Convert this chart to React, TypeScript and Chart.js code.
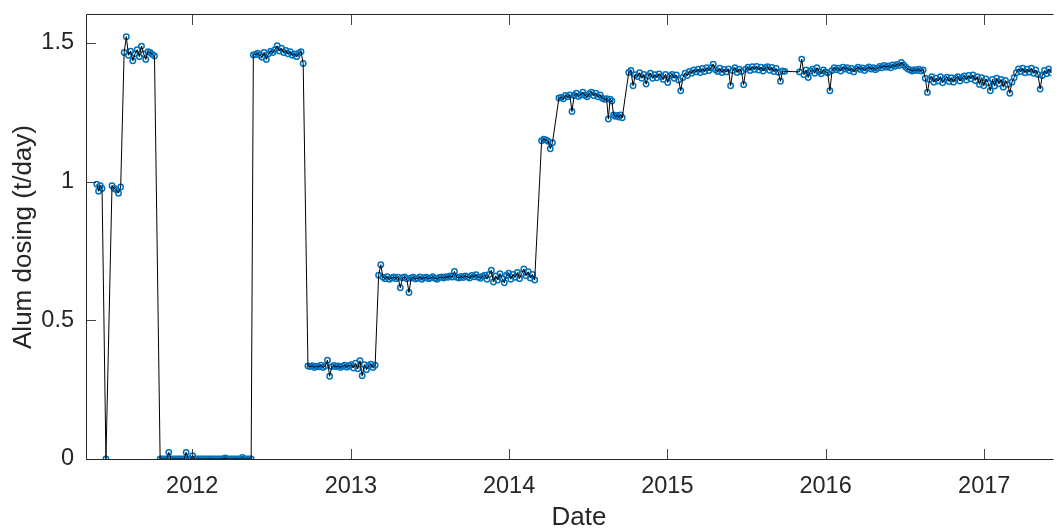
import { useEffect, useRef } from 'react';
import { Chart, registerables } from 'chart.js';

Chart.register(...registerables);

// Alum dosing rate (t/day), grouped into sampling runs.
// Each run starts on a date and is sampled every few days.
const may2011 = [0.99, 0.965, 0.985, 0.975];
const jun2011Outage = [0];
const jun2011 = [0.985, 0.975, 0.97, 0.958, 0.98];
const summer2011 = [1.465, 1.522, 1.455, 1.47, 1.435, 1.46, 1.475, 1.45, 1.488, 1.46, 1.44, 1.468, 1.465, 1.458, 1.452];
const offline2011 = [
  0, 0, 0, 0, 0.024, 0, 0, 0, 0, 0, 0, 0, 0.024, 0, 0, 0.012,
  0, 0, 0, 0, 0, 0, 0, 0, 0, 0, 0, 0, 0, 0, 0.004, 0,
  0, 0, 0, 0, 0, 0, 0.006, 0, 0, 0, 0,
];
const summer2012 = [
  1.456, 1.458, 1.462, 1.455, 1.448, 1.465, 1.44, 1.46, 1.47, 1.465, 1.475, 1.489,
  1.47, 1.48, 1.465, 1.472, 1.46, 1.468, 1.455, 1.46, 1.45, 1.462, 1.468, 1.425,
];
const low2012 = [
  0.335, 0.333, 0.336, 0.33, 0.334, 0.332, 0.338, 0.33, 0.335, 0.356, 0.298, 0.333,
  0.337, 0.332, 0.335, 0.33, 0.334, 0.338, 0.331, 0.336, 0.34, 0.328, 0.345, 0.325,
  0.354, 0.3, 0.34, 0.322, 0.336, 0.342, 0.33, 0.338,
];
const mid2013 = [
  0.662, 0.7, 0.655, 0.65, 0.657, 0.648, 0.652, 0.656, 0.65, 0.655, 0.617, 0.653,
  0.656, 0.65, 0.6, 0.652, 0.655, 0.649, 0.651, 0.656, 0.648, 0.653, 0.655, 0.65,
  0.652, 0.657, 0.651, 0.648, 0.654, 0.656, 0.652, 0.657, 0.655, 0.66, 0.656, 0.676,
  0.655, 0.652, 0.658, 0.654, 0.66, 0.656, 0.652, 0.661, 0.657, 0.664, 0.655, 0.651,
  0.659, 0.662, 0.648, 0.665, 0.68, 0.638, 0.66, 0.645, 0.668, 0.65, 0.635, 0.662,
  0.67, 0.648, 0.665, 0.655, 0.672, 0.65, 0.668, 0.685, 0.66, 0.675, 0.652, 0.665,
  0.645,
];
const mar2014 = [1.147, 1.152, 1.15, 1.145, 1.118, 1.14];
const spring2014 = [
  1.301, 1.303, 1.298, 1.31, 1.305, 1.312, 1.252, 1.31, 1.318, 1.306, 1.312, 1.322,
  1.31, 1.305, 1.316, 1.322, 1.31, 1.318, 1.305, 1.312, 1.3, 1.296, 1.298,
];
const aug2014 = [1.225, 1.297, 1.29, 1.24, 1.235, 1.238, 1.232, 1.24, 1.23];
const late2014 = [
  1.393, 1.4, 1.345, 1.385, 1.378, 1.392, 1.372, 1.386, 1.351, 1.38, 1.39, 1.372,
  1.385, 1.374, 1.388, 1.378, 1.368, 1.386, 1.357, 1.38, 1.386, 1.372, 1.384, 1.366,
  1.327, 1.375, 1.39, 1.382, 1.397, 1.39, 1.402, 1.395, 1.405, 1.393, 1.407, 1.396,
  1.41, 1.4, 1.41, 1.423, 1.403, 1.396, 1.408, 1.393, 1.404, 1.395, 1.406, 1.345,
  1.4, 1.41, 1.393, 1.405, 1.396, 1.349, 1.405, 1.412, 1.4, 1.414, 1.404, 1.415,
  1.402, 1.412, 1.398, 1.41, 1.414, 1.401, 1.411, 1.396, 1.407, 1.394, 1.361, 1.398,
  1.397,
];
const late2015 = [
  1.395, 1.441, 1.385, 1.402, 1.375, 1.398, 1.405, 1.39, 1.41, 1.396, 1.388, 1.402,
  1.395, 1.392, 1.327, 1.4, 1.41, 1.403, 1.408, 1.398, 1.412, 1.405, 1.41, 1.4,
  1.407, 1.395, 1.406, 1.412, 1.404, 1.409, 1.4, 1.408, 1.413, 1.405, 1.41, 1.403,
  1.408, 1.415, 1.41, 1.418, 1.412, 1.416, 1.41, 1.42, 1.415, 1.422, 1.418, 1.429,
  1.42, 1.412, 1.405, 1.402, 1.398, 1.403, 1.4, 1.405, 1.398, 1.402,
];
const late2016 = [
  1.372, 1.321, 1.368, 1.378, 1.358, 1.372, 1.362, 1.378, 1.356, 1.37, 1.376, 1.36,
  1.374, 1.358, 1.372, 1.378, 1.362, 1.374, 1.38, 1.366, 1.382, 1.37, 1.384, 1.364,
  1.378, 1.35, 1.374, 1.345, 1.37, 1.356, 1.327, 1.368, 1.344, 1.372, 1.352, 1.368,
  1.34, 1.364, 1.35, 1.318, 1.358, 1.374, 1.392, 1.406, 1.396, 1.408, 1.392, 1.405,
  1.394, 1.408, 1.39, 1.402, 1.386, 1.333, 1.382, 1.4, 1.388, 1.406, 1.392, 1.402,
];

const runStarts = [
  '2011-05-26', '2011-06-16', '2011-06-30', '2011-07-28', '2011-10-19', '2012-05-21',
  '2012-09-24', '2013-03-06', '2014-03-17', '2014-04-26', '2014-08-18', '2014-10-04',
  '2015-11-02', '2016-08-18',
];
const runStepDays = [4, 1, 5, 5, 5, 5, 5, 5, 5, 5, 4, 5, 5, 5];
const runValues = [
  may2011, jun2011Outage, jun2011, summer2011, offline2011, summer2012,
  low2012, mid2013, mar2014, spring2014, aug2014, late2014, late2015, late2016,
];

const yearTicks = [2012, 2013, 2014, 2015, 2016, 2017];
const dosingTicks = [0, 0.5, 1, 1.5];
const xStart = '2011-05-01';
const xEnd = '2017-06-05';

const DAY = 86400000;
const parseDay = (s: string) => {
  const [y, m, d] = s.split('-').map(Number);
  return Date.UTC(y, m - 1, d);
};

const points = runStarts.flatMap((start, r) =>
  runValues[r].map((v, i) => ({ x: parseDay(start) + i * runStepDays[r] * DAY, y: v }))
);

const INK = '#262626';
const TICK_FONT = { family: '"Liberation Sans", Arial, Helvetica, sans-serif', size: 23.5 };

const axesFrame = {
  id: 'axesFrame',
  afterDraw(chart: any) {
    const { ctx, chartArea: a, scales } = chart;
    const xs = scales.x;
    const ys = scales.y;
    ctx.save();
    ctx.strokeStyle = INK;
    ctx.lineWidth = 1;
    ctx.beginPath();
    ctx.moveTo(a.right + 2, a.top - 0.5);
    ctx.lineTo(a.left + 0.5, a.top - 0.5);
    ctx.lineTo(a.left + 0.5, a.bottom + 0.5);
    ctx.lineTo(a.right + 2, a.bottom + 0.5);
    ctx.stroke();

    const len = 10;
    ctx.strokeStyle = 'rgba(38,38,38,0.85)';
    ctx.beginPath();
    yearTicks.forEach((yr) => {
      const px = Math.round(xs.getPixelForValue(Date.UTC(yr, 0, 1))) + 0.5;
      ctx.moveTo(px, a.bottom);
      ctx.lineTo(px, a.bottom - len);
      ctx.moveTo(px, a.top);
      ctx.lineTo(px, a.top + len);
    });
    dosingTicks.forEach((v) => {
      const py = Math.round(ys.getPixelForValue(v)) + 0.5;
      ctx.moveTo(a.left, py);
      ctx.lineTo(a.left + len, py);
    });
    ctx.stroke();

    ctx.fillStyle = INK;
    ctx.font = '26px "Liberation Sans", Arial, Helvetica, sans-serif';
    ctx.textAlign = 'center';
    ctx.textBaseline = 'alphabetic';
    ctx.fillText('Date', 579, 525);

    ctx.translate(31, (a.top + a.bottom) / 2);
    ctx.rotate(-Math.PI / 2);
    ctx.fillText('Alum dosing (t/day)', 0, 0);
    ctx.restore();
  },
};

export default function App() {
  const canvasRef = useRef<HTMLCanvasElement | null>(null);

  useEffect(() => {
    if (!canvasRef.current) return;
    const chart = new Chart(canvasRef.current, {
      type: 'line',
      data: {
        datasets: [
          {
            data: points,
            borderColor: '#000000',
            borderWidth: 1,
            pointRadius: 0,
            tension: 0,
            fill: false,
          },
          {
            data: points,
            showLine: false,
            pointStyle: 'circle',
            pointRadius: 2.7,
            pointBorderWidth: 1.5,
            pointBorderColor: '#0072BD',
            pointBackgroundColor: 'rgba(0,0,0,0)',
          },
        ],
      },
      options: {
        animation: false,
        responsive: false,
        devicePixelRatio: 1,
        events: [],
        layout: { padding: { top: 15, right: 0, bottom: 0, left: 0 } },
        plugins: { legend: { display: false }, tooltip: { enabled: false } },
        scales: {
          x: {
            type: 'linear',
            min: parseDay(xStart),
            max: parseDay(xEnd) + 0.2 * DAY,
            grid: { display: false, drawTicks: false },
            border: { display: false },
            afterBuildTicks: (s: any) => {
              s.ticks = yearTicks.map((yr) => ({ value: Date.UTC(yr, 0, 1) }));
            },
            afterFit: (s: any) => {
              s.height = 70;
              s.paddingLeft = 0;
              s.paddingRight = 0;
            },
            ticks: {
              autoSkip: false,
              maxRotation: 0,
              padding: 13,
              color: INK,
              font: TICK_FONT,
              callback: (v: any) => String(new Date(Number(v)).getUTCFullYear()),
            },
          },
          y: {
            type: 'linear',
            min: 0,
            max: 1.6,
            grid: { display: false, drawTicks: false },
            border: { display: false },
            afterBuildTicks: (s: any) => {
              s.ticks = dosingTicks.map((v) => ({ value: v }));
            },
            afterFit: (s: any) => {
              s.width = 86;
              s.paddingTop = 0;
              s.paddingBottom = 0;
            },
            ticks: {
              padding: 12,
              color: INK,
              font: TICK_FONT,
              callback: (v: any) => String(v),
            },
          },
        },
      },
      plugins: [axesFrame],
    });
    return () => chart.destroy();
  }, []);

  return (
    <div style={{ position: 'fixed', left: 0, top: 0, width: 1057, height: 529, background: '#ffffff' }}>
      <canvas ref={canvasRef} width={1057} height={529} style={{ display: 'block' }} />
    </div>
  );
}
